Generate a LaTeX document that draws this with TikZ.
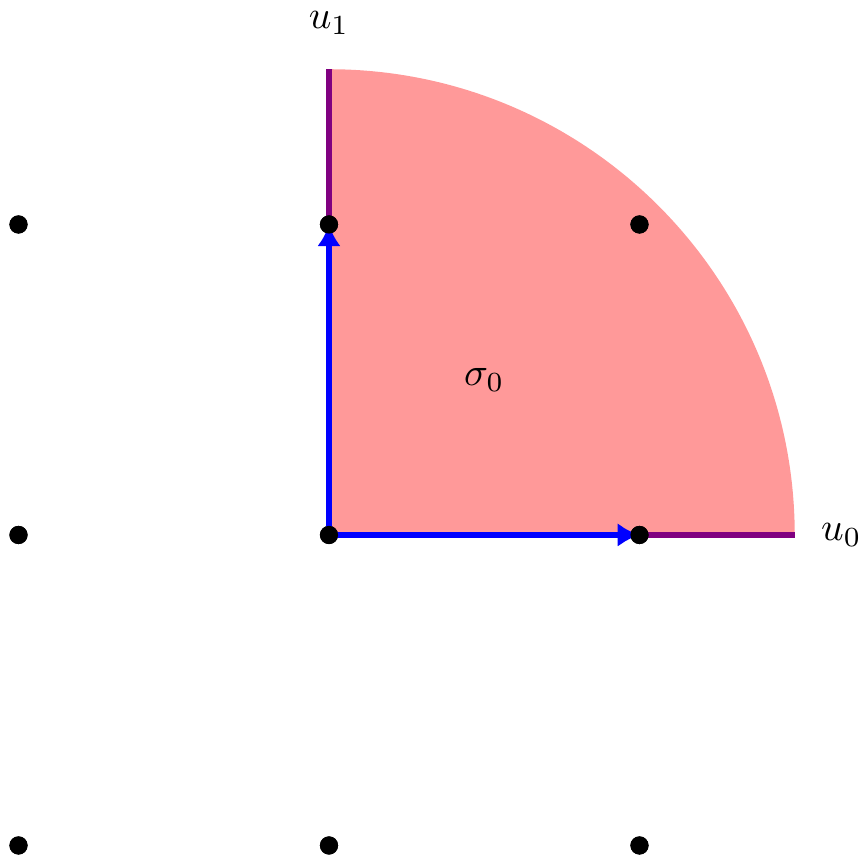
\documentclass[tikz,border=0pt]{standalone}
\usetikzlibrary{arrows.meta}
\definecolor{wedge}{RGB}{255,153,153}
\definecolor{edgepurple}{RGB}{128,0,128}
\begin{document}
\begin{tikzpicture}[x=2.76cm,y=2.76cm,
  dot/.style={circle,fill=black,inner sep=0pt,minimum size=4.6pt},
  raylin/.style={draw=edgepurple,line width=1.5pt},
  gen/.style={draw=blue,line width=1.5pt,-{Latex[length=5.5pt,width=6pt]}},
  lab/.style={inner sep=0pt}]
\useasboundingbox (-1.0596,-1.037) rectangle (1.7134,1.723);
\coordinate (O) at (0,0);
\coordinate (E0) at (1.5,0);
\coordinate (E1) at (0,1.5);
\fill[wedge] (O) -- (E0) arc[start angle=0,end angle=90,radius=1.5] -- cycle;
\draw[raylin] (O) -- (E0);
\draw[raylin] (O) -- (E1);
\foreach \i in {-1,0,1}{
  \foreach \j in {-1,0,1}{
    \node[dot] (p\i\j) at (\i,\j) {};
  }
}
\draw[gen] (O) -- (p10.center);
\draw[gen] (O) -- (p01.center);
\foreach \i in {-1,0,1}{
  \foreach \j in {-1,0,1}{
    \fill (\i,\j) circle[radius=2.3pt];
  }
}
\node[lab] (u0) at (1.65,0) {$u_0$};
\node[lab] (u1) at (0,1.65) {$u_1$};
\node[lab] (s0) at (0.5,0.5) {$\sigma_0$};
\end{tikzpicture}
\end{document}
